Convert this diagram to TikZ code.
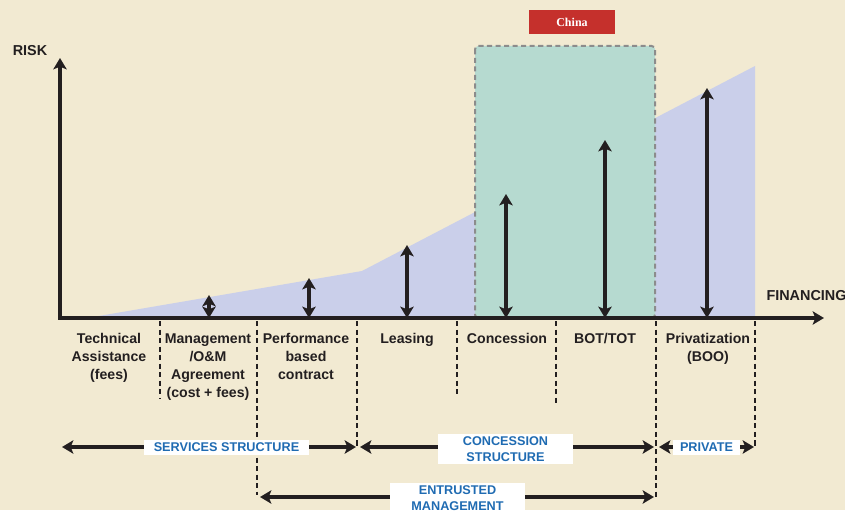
\documentclass[tikz,border=0pt]{standalone}
\usepackage{fontspec}
\setmainfont{Liberation Sans}
\newfontfamily\serifcaption{Liberation Serif}
\usetikzlibrary{arrows.meta}

\definecolor{paper}{RGB}{242,234,210}
\definecolor{riskfill}{RGB}{202,207,234}
\definecolor{chinafill}{RGB}{182,218,208}
\definecolor{chinared}{RGB}{197,48,44}
\definecolor{ink}{RGB}{35,31,32}
\definecolor{labelblue}{RGB}{31,107,178}
\definecolor{boxgray}{RGB}{140,140,140}

\tikzset{every picture/.style={line width=0.75pt}}
\tikzset{
  tip/.tip={Stealth[length=8.5pt,width=10pt,inset=2pt]},
  axisline/.style={line width=2.6pt, draw=ink, tip-tip},
  riskarrow/.style={line width=2.5pt, draw=ink, tip-tip},
  spanarrow/.style={line width=2.5pt, draw=ink, tip-tip},
  divider/.style={line width=1.6pt, draw=ink, dash pattern=on 3.8pt off 2.6pt},
  modelabel/.style={anchor=north, inner sep=0pt, align=center, text=ink,
    font=\bfseries\fontsize{10.6}{13.5}\selectfont},
  spanlabel/.style={fill=white, inner sep=0pt, align=center, text=labelblue,
    minimum height=11.25pt, font=\bfseries\fontsize{9.5}{12}\selectfont},
}

\begin{document}
\begin{tikzpicture}[x=0.75pt,y=0.75pt,yscale=-1,xscale=1]
\useasboundingbox (0,0) rectangle (845,510);
\fill [paper] (0,0) rectangle (845,510);

%Shape: Risk area
\fill [riskfill] (87,318) -- (362,271) -- (755,66) -- (755,318) -- cycle ;
%Shape: Rectangle [China]
\draw [boxgray, line width=1.5pt, dash pattern=on 3.8pt off 2.6pt, rounded corners=2.5pt, fill=chinafill] (475,46) rectangle (655,318) ;

% Axes
\coordinate (o) at (60,318);
\coordinate (ytop) at (60,58);
\coordinate (xend) at (824,318);
\draw [axisline, line join=miter] (ytop) -- (o) -- (xend) ;

% Risk arrows
\foreach \x/\y [count=\i] in {209/295, 309/278, 407/245, 506/194, 605/140, 707/88}
  {\coordinate (r\i) at (\x,\y);
   \draw [riskarrow] (r\i) -- (r\i |- o) ;}

% Dashed dividers
\foreach \x/\y [count=\i] in {160/399, 257/495, 357/448, 457/397, 556/404, 656/497, 755/448}
  {\coordinate (d\i) at (\x,321);
   \draw [divider] (d\i) -- (\x,\y) ;}

% Structure spans
\coordinate (s0) at (62,447);
\coordinate (s1) at (356,447);
\coordinate (c0) at (360,447);
\coordinate (c1) at (654,447);
\coordinate (p0) at (659,447);
\coordinate (p1) at (754,447);
\coordinate (e0) at (260,497);
\coordinate (e1) at (654,497);
\draw [spanarrow] (s0) -- (s1) ;
\draw [spanarrow] (c0) -- (c1) ;
\draw [spanarrow] (p0) -- (p1) ;
\draw [spanarrow] (e0) -- (e1) ;

% Text Node
\node [spanlabel, minimum width=123.75pt] (services) at (226.5,447.5) {SERVICES STRUCTURE};
% Text Node
\node [spanlabel, minimum width=101pt, minimum height=22.5pt] (concession) at (505.5,449) {CONCESSION\\STRUCTURE};
% Text Node
\node [spanlabel, minimum width=50pt] (private) at (706.5,447.5) {PRIVATE};
% Text Node
\node [spanlabel, minimum width=101pt, minimum height=22.5pt] (entrusted) at (457.5,498) {ENTRUSTED\\MANAGEMENT};

% Text Node
\node [modelabel] (technical) at (109,333) {Technical\\Assistance\\(fees)};
% Text Node
\node [modelabel] (management) at (208,333) {Management\\/O\&M\\Agreement\\(cost + fees)};
% Text Node
\node [modelabel] (performance) at (306,333) {Performance\\based\\contract};
% Text Node
\node [modelabel] (leasing) at (407,333) {Leasing};
% Text Node
\node [modelabel] (concessionmode) at (507,333) {Concession};
% Text Node
\node [modelabel] (bottot) at (605,333) {BOT/TOT};
% Text Node
\node [modelabel] (privatization) at (708,333) {Privatization\\(BOO)};

% Text Node
\node [inner sep=0pt, text=ink, font=\bfseries\fontsize{10.8}{12}\selectfont] (risk) at (30,51) {RISK};
% Text Node
\node [anchor=west, inner sep=0pt, text=ink, font=\bfseries\fontsize{10.8}{12}\selectfont] (financing) at (766,296) {FINANCING};
% Text Node
\node [fill=chinared, text=white, inner sep=0pt, minimum width=64.5pt, minimum height=18pt,
  font=\serifcaption\bfseries\fontsize{9}{11}\selectfont] (china) at (572,22) {China};

\end{tikzpicture}
\end{document}
